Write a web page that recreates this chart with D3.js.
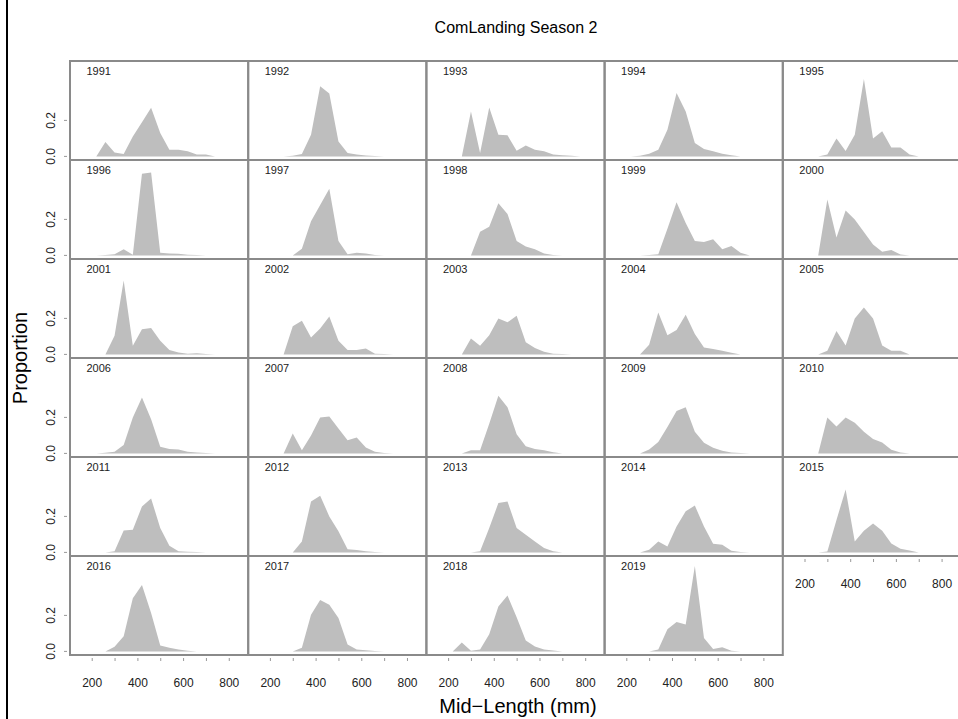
<!DOCTYPE html>
<html>
<head>
<meta charset="utf-8">
<script src="https://cdn.jsdelivr.net/npm/d3@7"></script>
<style>
body { margin: 0; background: #fff; }
svg { font-family: "Liberation Sans", Arial, sans-serif; display: block; }
</style>
</head>
<body>
<div id="chart"></div>
<script>
// Length compositions, one array per year (proportion at each mid-length bin)
const midLengths = [220, 260, 300, 340, 380, 420, 460, 500, 540, 580, 620, 660, 700, 740, 780];
const years = [1991, 1992, 1993, 1994, 1995, 1996, 1997, 1998, 1999, 2000,
    2001, 2002, 2003, 2004, 2005, 2006, 2007, 2008, 2009, 2010,
    2011, 2012, 2013, 2014, 2015, 2016, 2017, 2018, 2019];

const p1991 = [0, 0.08, 0.022, 0.013, 0.11, 0.19, 0.27, 0.13, 0.037, 0.037, 0.028, 0.01, 0.011, 0, 0];
const p1992 = [0, 0, 0.003, 0.013, 0.12, 0.39, 0.35, 0.083, 0.019, 0.01, 0.005, 0.002, 0, 0, 0];
const p1993 = [0, 0, 0.25, 0.019, 0.272, 0.12, 0.117, 0.031, 0.061, 0.037, 0.028, 0.01, 0.006, 0.004, 0];
const p1994 = [0, 0.004, 0.015, 0.037, 0.148, 0.352, 0.25, 0.074, 0.041, 0.028, 0.015, 0.006, 0, 0, 0];
const p1995 = [0, 0, 0.01, 0.1, 0.03, 0.12, 0.43, 0.1, 0.14, 0.05, 0.05, 0.01, 0, 0, 0];
const p1996 = [0, 0.002, 0.006, 0.034, 0.003, 0.454, 0.46, 0.015, 0.011, 0.009, 0.004, 0.002, 0, 0, 0];
const p1997 = [0, 0, 0, 0.037, 0.19, 0.28, 0.37, 0.08, 0.006, 0.015, 0.011, 0.002, 0, 0, 0];
const p1998 = [0, 0, 0, 0.131, 0.159, 0.29, 0.23, 0.08, 0.049, 0.034, 0.011, 0.002, 0, 0, 0];
const p1999 = [0, 0, 0.002, 0.006, 0.148, 0.295, 0.18, 0.08, 0.075, 0.09, 0.034, 0.052, 0.015, 0, 0];
const p2000 = [0, 0, 0.31, 0.1, 0.25, 0.2, 0.13, 0.06, 0.02, 0.03, 0.005, 0, 0, 0, 0];
const p2001 = [0, 0, 0.104, 0.41, 0.048, 0.14, 0.146, 0.076, 0.024, 0.011, 0.004, 0.006, 0.002, 0, 0];
const p2002 = [0, 0, 0.156, 0.187, 0.094, 0.144, 0.21, 0.076, 0.024, 0.024, 0.033, 0.004, 0.002, 0, 0];
const p2003 = [0, 0, 0.089, 0.048, 0.107, 0.2, 0.178, 0.215, 0.067, 0.035, 0.015, 0.004, 0.002, 0, 0];
const p2004 = [0, 0, 0.054, 0.233, 0.107, 0.135, 0.22, 0.113, 0.039, 0.03, 0.02, 0.009, 0, 0, 0];
const p2005 = [0, 0, 0.02, 0.13, 0.05, 0.2, 0.26, 0.2, 0.05, 0.02, 0.02, 0, 0, 0, 0];
const p2006 = [0, 0.003, 0.009, 0.046, 0.2, 0.31, 0.19, 0.037, 0.024, 0.022, 0.009, 0.005, 0.002, 0, 0];
const p2007 = [0, 0, 0.11, 0.018, 0.1, 0.2, 0.205, 0.138, 0.073, 0.088, 0.033, 0.009, 0.002, 0, 0];
const p2008 = [0, 0, 0.018, 0.018, 0.165, 0.32, 0.257, 0.106, 0.04, 0.024, 0.018, 0.007, 0, 0, 0];
const p2009 = [0, 0, 0.022, 0.064, 0.147, 0.235, 0.257, 0.12, 0.059, 0.031, 0.015, 0.005, 0.002, 0, 0];
const p2010 = [0, 0, 0.2, 0.15, 0.2, 0.17, 0.12, 0.08, 0.06, 0.02, 0.005, 0, 0, 0, 0];
const p2011 = [0, 0, 0.006, 0.122, 0.126, 0.255, 0.3, 0.135, 0.037, 0.006, 0.004, 0.002, 0, 0, 0];
const p2012 = [0, 0, 0, 0.061, 0.283, 0.315, 0.2, 0.117, 0.018, 0.013, 0.006, 0.002, 0, 0, 0];
const p2013 = [0, 0, 0, 0.006, 0.135, 0.274, 0.283, 0.135, 0.098, 0.061, 0.024, 0.006, 0, 0, 0];
const p2014 = [0, 0, 0.015, 0.061, 0.033, 0.144, 0.228, 0.26, 0.144, 0.048, 0.043, 0.009, 0.002, 0, 0];
const p2015 = [0, 0, 0.005, 0.18, 0.35, 0.06, 0.12, 0.16, 0.12, 0.05, 0.02, 0.01, 0, 0, 0];
const p2016 = [0, 0, 0.026, 0.084, 0.295, 0.369, 0.213, 0.033, 0.02, 0.011, 0.004, 0, 0, 0, 0];
const p2017 = [0, 0, 0, 0.02, 0.204, 0.286, 0.259, 0.185, 0.039, 0.011, 0.007, 0.002, 0, 0, 0];
const p2018 = [0, 0.05, 0.003, 0.011, 0.095, 0.25, 0.31, 0.19, 0.06, 0.027, 0.01, 0.005, 0, 0, 0];
const p2019 = [0, 0, 0, 0.01, 0.123, 0.164, 0.149, 0.475, 0.074, 0.013, 0.023, 0.004, 0, 0, 0];

const proportions = [p1991, p1992, p1993, p1994, p1995, p1996, p1997, p1998, p1999, p2000,
    p2001, p2002, p2003, p2004, p2005, p2006, p2007, p2008, p2009, p2010,
    p2011, p2012, p2013, p2014, p2015, p2016, p2017, p2018, p2019];

const xTicks = [200, 300, 400, 500, 600, 700, 800];
const xTickLabels = [200, 400, 600, 800];
const yTicks = [0, 0.2];

const width = 958, height = 719;
const margin = { top: 61, left: 70 };
const nCols = 5;
const panelW = 178.2, panelH = 99;

const svg = d3.select("#chart")
    .append("svg")
    .attr("width", width)
    .attr("height", height);

const x = d3.scaleLinear().domain([105, 885]).range([0, panelW]);
const y = d3.scaleLinear().domain([-0.02, 0.53]).range([panelH, 0]);

const area = d3.area()
    .x((d, i) => x(midLengths[i]))
    .y0(y(0))
    .y1(d => y(d));

const panels = svg.selectAll(".panel")
    .data(years)
    .enter()
    .append("g")
    .attr("class", "panel")
    .attr("transform", (d, i) => `translate(${margin.left + (i % nCols) * panelW},${margin.top + Math.floor(i / nCols) * panelH})`);

panels.append("path")
    .attr("d", (d, i) => area(proportions[i]))
    .attr("fill", "#bebebe");

panels.append("rect")
    .attr("width", panelW)
    .attr("height", panelH)
    .attr("fill", "none")
    .attr("stroke", "#8a8a8a")
    .attr("stroke-width", 2);

panels.append("text")
    .attr("x", 16.5)
    .attr("y", 14)
    .attr("font-size", 11)
    .attr("fill", "#222")
    .text(d => d);

// x axes under the last panel of each column
panels.filter((d, i) => i + nCols >= years.length)
    .each(function () {
        const g = d3.select(this).append("g")
            .attr("class", "x-axis")
            .attr("transform", `translate(0,${panelH + 3})`)
            .call(d3.axisBottom(x)
                .tickValues(xTicks)
                .tickSize(3)
                .tickPadding(17)
                .tickFormat(d => xTickLabels.includes(d) ? d : ""));
        g.select(".domain").remove();
        g.selectAll(".tick line").attr("stroke", "#999");
        g.selectAll(".tick text")
            .attr("font-size", 12)
            .attr("font-family", "Liberation Sans, Arial, sans-serif")
            .attr("fill", "#222");
    });

// y axes on the first column
panels.filter((d, i) => i % nCols === 0)
    .each(function () {
        const g = d3.select(this).append("g").attr("class", "y-axis");
        g.selectAll("line")
            .data(yTicks)
            .enter()
            .append("line")
            .attr("x1", -6)
            .attr("x2", -3)
            .attr("y1", d => y(d))
            .attr("y2", d => y(d))
            .attr("stroke", "#999");
        g.selectAll("text")
            .data(yTicks)
            .enter()
            .append("text")
            .attr("transform", d => `translate(-15,${y(d)}) rotate(-90)`)
            .attr("text-anchor", "middle")
            .attr("font-size", 12)
            .attr("fill", "#222")
            .text(d => d3.format(".1f")(d));
    });

svg.append("text")
    .attr("x", 516)
    .attr("y", 33)
    .attr("text-anchor", "middle")
    .attr("font-size", 16)
    .text("ComLanding Season 2");

svg.append("text")
    .attr("x", 518)
    .attr("y", 713)
    .attr("text-anchor", "middle")
    .attr("font-size", 20)
    .text("Mid\u2212Length (mm)");

svg.append("text")
    .attr("transform", `translate(27,${margin.top + 3 * panelH}) rotate(-90)`)
    .attr("text-anchor", "middle")
    .attr("font-size", 20)
    .text("Proportion");

// figure frame edge on the left
svg.append("line")
    .attr("x1", 7).attr("x2", 7)
    .attr("y1", 0).attr("y2", height)
    .attr("stroke", "#000")
    .attr("stroke-width", 2);
</script>
</body>
</html>
